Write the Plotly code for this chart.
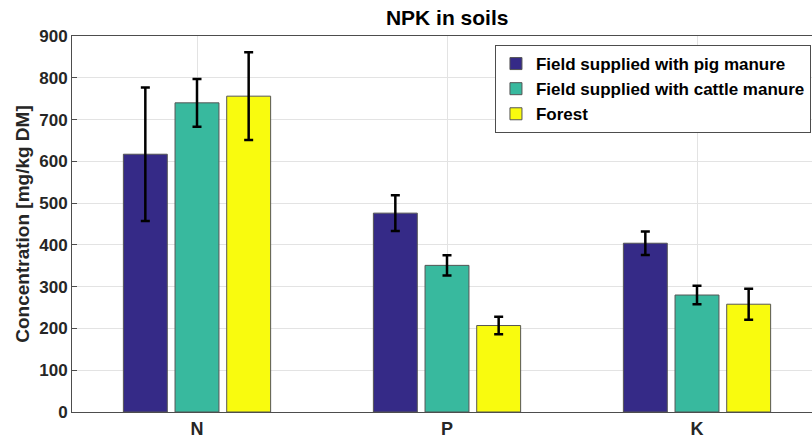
import plotly.graph_objects as go

categories = ["N", "P", "K"]
series_names = ["Field supplied with pig manure", "Field supplied with cattle manure", "Forest"]
pig_values = [617, 476, 404]
pig_err = [160, 43, 28]
cattle_values = [740, 351, 280]
cattle_err = [57, 24, 22]
forest_values = [756, 207, 258]
forest_err = [105, 21, 37]
y_ticks = [0, 100, 200, 300, 400, 500, 600, 700, 800, 900]

colors = ["#352a87", "#38b99e", "#f9fb0e"]
values = [pig_values, cattle_values, forest_values]
errs = [pig_err, cattle_err, forest_err]

FONT = "Liberation Sans, Arial, sans-serif"

fig = go.Figure()
for name, v, e, c in zip(series_names, values, errs, colors):
    fig.add_trace(go.Bar(
        x=categories, y=v, name=name,
        marker=dict(color=c, line=dict(color="#555555", width=1)),
        error_y=dict(type="data", array=e, color="black", thickness=2.5, width=4.5),
    ))

fig.update_layout(
    width=812, height=441,
    margin=dict(l=72, r=0, t=36, b=29),
    paper_bgcolor="white", plot_bgcolor="white",
    barmode="group", bargap=0.38, bargroupgap=0.15,
    font=dict(family=FONT, size=17, color="#262626", weight="bold"),
    title=dict(text="NPK in soils", x=0.507, xanchor="center", xref="paper",
               y=1 - 17.5 / 441, yanchor="middle", yref="container",
               font=dict(size=21, color="black", weight="bold")),
    xaxis=dict(range=[-0.5, 2.46], showgrid=True, gridcolor="#e3e3e3",
               showline=True, linecolor="#4d4d4d", linewidth=1, mirror=True,
               ticks="", tickfont=dict(size=18, color="#262626", weight="bold")),
    yaxis=dict(range=[0, 900], tickvals=y_ticks, showgrid=True, gridcolor="#e3e3e3",
               showline=True, linecolor="#4d4d4d", linewidth=1,
               ticks="inside", ticklen=5, tickcolor="#4d4d4d",
               zeroline=False,
               tickfont=dict(size=17, color="#262626", weight="bold"),
               title=dict(text="Concentration [mg/kg DM]", standoff=4,
                          font=dict(size=19, color="#262626", weight="bold"))),
    legend=dict(x=0.9986, xanchor="right", y=0.976, yanchor="top",
                bgcolor="white", bordercolor="#4d4d4d", borderwidth=1,
                font=dict(size=17, color="black", weight="bold"),
                tracegroupgap=0, itemwidth=30),
)

fig.write_html("out.html")
